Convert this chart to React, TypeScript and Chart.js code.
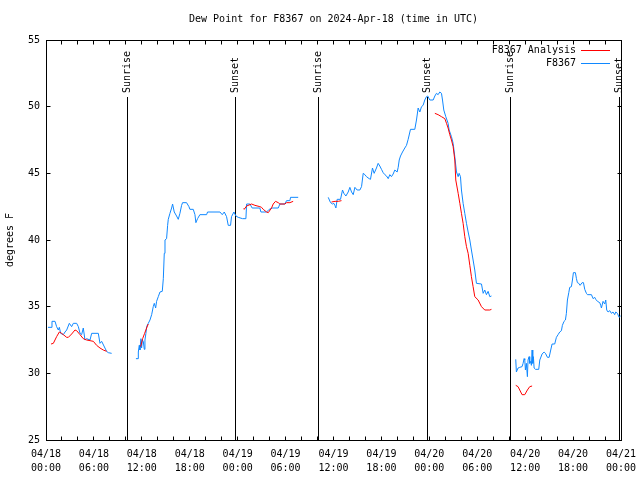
import React, { useEffect, useRef } from "react";
import { Chart, registerables } from "chart.js";

Chart.register(...registerables);

const TITLE = "Dew Point for F8367 on 2024-Apr-18 (time in UTC)";
const Y_TITLE = "degrees F";
const SERIES_ANALYSIS = "F8367 Analysis";
const SERIES_OBS = "F8367";

// hours since 2024-04-18 00:00 UTC
const X_MIN = 0;
const X_MAX = 72;
const Y_MIN = 25;
const Y_MAX = 55;
const yTicks = [25, 30, 35, 40, 45, 50, 55];
const xTickHours = [0, 6, 12, 18, 24, 30, 36, 42, 48, 54, 60, 66, 72];
const xTickDates = ["04/18", "04/18", "04/18", "04/18", "04/19", "04/19", "04/19", "04/19", "04/20", "04/20", "04/20", "04/20", "04/21"];
const xTickTimes = ["00:00", "06:00", "12:00", "18:00", "00:00", "06:00", "12:00", "18:00", "00:00", "06:00", "12:00", "18:00", "00:00"];
const minorStepHours = 2;

const sunHours = [10.2, 23.72, 34.15, 47.74, 58.15, 71.75];
const sunLabels = ["Sunrise", "Sunset", "Sunrise", "Sunset", "Sunrise", "Sunset"];

// F8367 observations (null = data gap)
const obsHours = [
  0.25, 0.63, 0.75, 1.13, 1.33, 1.54, 1.67, 1.84, 2.17, 2.38, 2.59, 2.92, 3.21, 3.42, 3.84, 4.05, 4.26, 4.46, 4.67, 4.88, 5.09, 5.51, 5.72, 6.55, 6.76, 6.97, 7.38, 7.59, 7.8, 8.22,
  9.7,
  11.26, 11.55, 11.56, 11.68, 11.76, 11.89, 11.97, 12.06, 12.18, 12.31, 12.39, 12.51, 12.6, 12.81, 13.02, 13.23, 13.43, 13.56, 13.73, 13.85, 14.06, 14.27, 14.56, 14.69, 14.81, 14.9, 15.1, 15.23, 15.31, 15.52, 15.73, 15.85, 16.06, 16.35, 16.56, 16.77, 16.98, 17.1, 17.6, 17.9, 18.02, 18.44, 18.65, 18.77, 18.98, 19.27, 20.11, 20.23, 21.78, 22.07, 22.32, 22.61, 22.82, 23.11, 23.23, 23.53, 23.78, 24.07, 24.61, 25.03, 25.12, 25.53, 25.82, 26.78, 26.91, 27.62, 27.95, 28.37, 29.08, 29.29, 29.91, 30.12, 30.54, 30.62, 31.58,
  33.5,
  35.34, 35.63, 35.88, 36.04, 36.17, 36.3, 36.46, 36.88, 37.13, 37.3, 37.55, 37.84, 38.05, 38.26, 38.47, 38.68, 38.96, 39.3, 39.51, 39.72, 39.93, 40.13, 40.47, 40.63, 40.88, 41.09, 41.38, 41.59, 41.8, 42.01, 42.22, 42.43, 42.64, 42.85, 43.05, 43.26, 43.47, 43.68, 43.97, 44.1, 44.23, 44.39, 44.64, 44.93, 45.14, 45.35, 45.64, 46.18, 46.39, 46.6, 46.81, 47.02, 47.22, 47.43, 47.64, 47.8, 48.06, 48.48, 48.69, 48.89, 49.1, 49.31, 49.52, 49.65, 49.81, 50.06, 50.35, 50.48, 50.77, 50.98, 51.19, 51.4, 51.61, 51.73, 51.9, 52.02, 52.23, 52.44, 52.65, 52.86, 53.07, 53.27, 53.48, 53.69, 53.9, 54.53, 54.74, 54.94, 55.15, 55.36, 55.57, 55.78,
  57.0,
  58.82, 58.9, 59.11, 59.32, 59.61, 59.74, 59.86, 59.95, 60.03, 60.15, 60.28, 60.36, 60.49, 60.57, 60.7, 60.78, 60.87, 60.95, 61.03, 61.12, 61.29, 61.7, 61.83, 62.12, 62.37, 62.54, 62.79, 63.0, 63.2, 63.37, 63.7, 63.91, 64.12, 64.33, 64.54, 64.66, 64.87, 65.04, 65.16, 65.29, 65.46, 65.58, 65.79, 65.92, 66.04, 66.29, 66.42, 66.54, 66.71, 66.88, 67.13, 67.3, 67.46, 67.67, 67.8, 68.3, 68.51, 68.71, 68.84, 69.05, 69.34, 69.46, 69.55, 69.75, 69.96, 70.09, 70.21, 70.38, 70.59, 70.8, 71.0, 71.21, 71.34, 71.55, 71.76, 71.95,
];
const obsValues = [
  33.45, 33.45, 33.9, 33.9, 33.5, 33.25, 33.45, 33.0, 32.9, 33.1, 33.25, 33.75, 33.5, 33.75, 33.75, 33.5, 33.0, 32.9, 33.4, 32.5, 32.6, 32.5, 33.0, 33.0, 32.25, 32.4, 31.9, 31.65, 31.55, 31.5,
  null,
  31.1, 31.1, 31.6, 32.1, 31.75, 32.6, 31.9, 32.5, 32.4, 31.8, 32.5, 33.0, 33.5, 33.75, 34.0, 34.4, 35.0, 35.25, 34.9, 35.4, 35.75, 36.1, 36.15, 37.1, 39.0, 40.0, 40.1, 41.1, 41.55, 42.0, 42.4, 42.7, 42.1, 41.8, 41.55, 42.0, 42.6, 42.8, 42.8, 42.5, 42.3, 42.3, 41.9, 41.3, 41.6, 41.9, 41.9, 42.1, 42.1, 41.9, 42.1, 41.75, 41.1, 41.1, 41.75, 42.1, 41.8, 41.7, 41.6, 41.6, 42.7, 42.7, 42.4, 42.4, 42.1, 42.1, 42.3, 42.4, 42.4, 42.7, 42.7, 42.95, 42.95, 43.2, 43.2,
  null,
  43.2, 42.8, 42.7, 42.75, 42.6, 42.4, 43.05, 43.05, 43.75, 43.5, 43.3, 43.6, 43.95, 43.6, 43.4, 43.95, 43.75, 43.75, 44.0, 45.0, 44.9, 44.75, 44.6, 44.55, 45.4, 45.0, 45.4, 45.75, 45.55, 45.3, 45.05, 44.9, 44.8, 44.6, 44.9, 44.75, 44.95, 45.25, 45.1, 45.45, 46.0, 46.3, 46.6, 46.9, 47.1, 47.55, 48.3, 48.3, 49.0, 49.9, 49.6, 50.0, 50.1, 50.5, 50.75, 50.8, 50.5, 50.5, 50.8, 51.0, 50.9, 51.1, 51.0, 50.5, 49.75, 49.25, 48.75, 48.25, 47.75, 47.25, 46.25, 45.1, 44.75, 45.0, 44.75, 43.75, 42.75, 42.0, 41.25, 40.6, 40.0, 39.25, 38.5, 37.75, 36.75, 36.7, 36.0, 36.25, 35.9, 36.15, 35.75, 35.8,
  null,
  31.05, 30.1, 30.4, 30.45, 30.5, 30.75, 31.1, 31.0, 30.25, 30.75, 29.75, 31.0, 31.25, 30.75, 30.9, 30.6, 31.75, 30.75, 31.25, 30.4, 30.3, 30.3, 31.0, 31.45, 31.6, 31.5, 31.2, 31.2, 31.75, 32.2, 32.2, 32.7, 32.9, 33.1, 33.2, 33.6, 33.9, 34.0, 34.5, 35.5, 36.05, 36.45, 36.5, 37.0, 37.55, 37.55, 37.1, 36.8, 36.75, 36.6, 36.8, 36.8, 36.3, 36.0, 35.9, 35.9, 35.6, 35.7, 35.55, 35.4, 35.3, 35.1, 34.9, 35.4, 35.2, 35.5, 34.75, 34.6, 34.7, 34.5, 34.6, 34.4, 34.6, 34.5, 34.2, 34.3,
];

// F8367 Analysis (null = data gap)
const anaHours = [
  0.63, 0.92, 1.33, 1.67, 1.96, 2.17, 2.59, 2.8, 3.21, 3.63, 3.84, 4.26, 4.67, 5.09, 5.51, 5.93, 6.34, 6.76, 7.17, 7.59,
  9.7,
  11.85, 12.1, 12.35, 12.6, 12.8,
  18.0,
  24.78, 24.82, 25.12, 25.74, 26.16, 26.78, 26.99, 27.2, 27.62, 27.83, 28.24, 28.45, 28.74, 29.08, 29.29, 29.91, 30.12, 30.54, 30.95,
  33.0,
  35.75, 36.2, 36.6, 37.0,
  42.0,
  48.69, 49.1, 49.52, 49.94, 50.15, 50.35, 50.56, 50.77, 50.98, 51.19, 51.31, 51.61, 51.82, 52.02, 52.23, 52.44, 52.65, 52.86, 53.07, 53.27, 53.48, 53.69, 54.11, 54.53, 54.94, 55.57, 55.78,
  57.0,
  58.82, 59.11, 59.32, 59.61, 59.95, 60.28, 60.57, 60.87,
];
const anaValues = [
  32.2, 32.25, 32.75, 33.1, 33.0, 32.9, 32.7, 32.7, 32.95, 33.25, 33.2, 32.9, 32.6, 32.5, 32.45, 32.4, 32.1, 31.9, 31.75, 31.65,
  null,
  32.0, 32.6, 33.0, 33.4, 33.7,
  null,
  42.38, 42.3, 42.55, 42.7, 42.6, 42.5, 42.45, 42.3, 42.1, 42.05, 42.4, 42.7, 42.9, 42.8, 42.7, 42.7, 42.8, 42.8, 42.9,
  null,
  42.85, 42.9, 42.9, 42.95,
  null,
  49.5, 49.4, 49.25, 49.1, 48.75, 48.4, 47.9, 47.5, 47.0, 46.0, 44.5, 43.5, 42.75, 42.0, 41.25, 40.25, 39.5, 39.0, 38.1, 37.25, 36.5, 35.75, 35.5, 35.0, 34.75, 34.75, 34.8,
  null,
  29.1, 29.0, 28.75, 28.4, 28.4, 28.75, 29.0, 29.05,
];

const OBS_COLOR = "rgb(16,136,255)";
const ANA_COLOR = "rgb(255,0,0)";
const FONT = '10px "DejaVu Sans Mono", "Liberation Mono", monospace';

function toPoints(xs: number[], ys: (number | null)[]) {
  return xs.map((x, i) => ({ x, y: ys[i] }));
}

const gnuplotPlugin = {
  id: "gnuplotDecor",
  beforeDatasetsDraw(chart: any) {
    const { ctx, chartArea, scales } = chart;
    const xs = scales.x;
    ctx.save();
    ctx.strokeStyle = "#000";
    ctx.lineWidth = 1;
    sunHours.forEach((h) => {
      const px = Math.floor(xs.getPixelForValue(h)) + 0.5;
      ctx.beginPath();
      ctx.moveTo(px, chartArea.top + 57);
      ctx.lineTo(px, chartArea.bottom);
      ctx.stroke();
    });
    ctx.restore();
  },
  afterDraw(chart: any) {
    const { ctx, chartArea, scales } = chart;
    const xs = scales.x;
    const ys = scales.y;
    const L = Math.floor(chartArea.left) + 0.5;
    const R = Math.floor(chartArea.right) + 0.5;
    const T = Math.floor(chartArea.top) + 0.5;
    const B = Math.floor(chartArea.bottom) + 0.5;
    ctx.save();
    ctx.strokeStyle = "#000";
    ctx.fillStyle = "#000";
    ctx.lineWidth = 1;
    // frame
    ctx.strokeRect(L, T, R - L, B - T);
    const tl = 4;
    // x ticks (inward top and bottom)
    for (let h = X_MIN; h <= X_MAX; h += minorStepHours) {
      const px = Math.floor(xs.getPixelForValue(h)) + 0.5;
      ctx.beginPath();
      ctx.moveTo(px, B);
      ctx.lineTo(px, B - tl);
      ctx.moveTo(px, T);
      ctx.lineTo(px, T + tl);
      ctx.stroke();
    }
    // y ticks (inward left and right)
    yTicks.forEach((v) => {
      const py = Math.floor(ys.getPixelForValue(v)) + 0.5;
      ctx.beginPath();
      ctx.moveTo(L, py);
      ctx.lineTo(L + tl, py);
      ctx.moveTo(R, py);
      ctx.lineTo(R - tl, py);
      ctx.stroke();
    });
    ctx.font = FONT;
    // y labels
    ctx.textAlign = "right";
    ctx.textBaseline = "middle";
    yTicks.forEach((v) => {
      ctx.fillText(String(v), chartArea.left - 6, ys.getPixelForValue(v));
    });
    // x labels
    ctx.textAlign = "center";
    xTickHours.forEach((h, i) => {
      const px = xs.getPixelForValue(h);
      ctx.fillText(xTickDates[i], px, chartArea.bottom + 14);
      ctx.fillText(xTickTimes[i], px, chartArea.bottom + 28);
    });
    // title
    ctx.fillText(TITLE, (chartArea.left + chartArea.right) / 2, 19);
    // y title
    ctx.save();
    ctx.translate(10, (chartArea.top + chartArea.bottom) / 2);
    ctx.rotate(-Math.PI / 2);
    ctx.textAlign = "center";
    ctx.fillText(Y_TITLE, 0, 0);
    ctx.restore();
    // sunrise / sunset labels
    sunHours.forEach((h, i) => {
      const px = Math.floor(xs.getPixelForValue(h)) + 0.5;
      ctx.save();
      ctx.translate(px, chartArea.top + 53);
      ctx.rotate(-Math.PI / 2);
      ctx.textAlign = "left";
      ctx.textBaseline = "middle";
      ctx.fillText(sunLabels[i], 0, 0);
      ctx.restore();
    });
    // legend
    const legendItems = [
      { label: SERIES_ANALYSIS, color: ANA_COLOR },
      { label: SERIES_OBS, color: OBS_COLOR },
    ];
    legendItems.forEach((item, i) => {
      const y = chartArea.top + 10 + i * 13;
      ctx.fillStyle = "#000";
      ctx.textAlign = "right";
      ctx.textBaseline = "middle";
      ctx.fillText(item.label, chartArea.right - 45, y);
      ctx.strokeStyle = item.color;
      ctx.beginPath();
      ctx.moveTo(chartArea.right - 40, Math.floor(y) + 0.5);
      ctx.lineTo(chartArea.right - 11, Math.floor(y) + 0.5);
      ctx.stroke();
    });
    ctx.restore();
  },
};

export default function App() {
  const canvasRef = useRef<HTMLCanvasElement | null>(null);

  useEffect(() => {
    if (!canvasRef.current) return;
    const chart = new Chart(canvasRef.current, {
      type: "line",
      data: {
        datasets: [
          {
            label: SERIES_ANALYSIS,
            data: toPoints(anaHours, anaValues) as any,
            borderColor: ANA_COLOR,
            backgroundColor: ANA_COLOR,
            borderWidth: 1,
            pointRadius: 0,
            spanGaps: false,
            tension: 0,
          },
          {
            label: SERIES_OBS,
            data: toPoints(obsHours, obsValues) as any,
            borderColor: OBS_COLOR,
            backgroundColor: OBS_COLOR,
            borderWidth: 1,
            pointRadius: 0,
            spanGaps: false,
            tension: 0,
          },
        ],
      },
      options: {
        animation: false,
        responsive: false,
        layout: { padding: { left: 46, right: 19, top: 40, bottom: 40 } },
        plugins: {
          legend: { display: false },
          title: { display: false },
          tooltip: { enabled: false },
        },
        scales: {
          x: { type: "linear", min: X_MIN, max: X_MAX, display: false },
          y: { type: "linear", min: Y_MIN, max: Y_MAX, display: false },
        },
      },
      plugins: [gnuplotPlugin],
    });
    return () => chart.destroy();
  }, []);

  return (
    <div style={{ position: "absolute", left: 0, top: 0, width: 640, height: 480, background: "#fff" }}>
      <canvas ref={canvasRef} width={640} height={480} style={{ display: "block" }} />
    </div>
  );
}
